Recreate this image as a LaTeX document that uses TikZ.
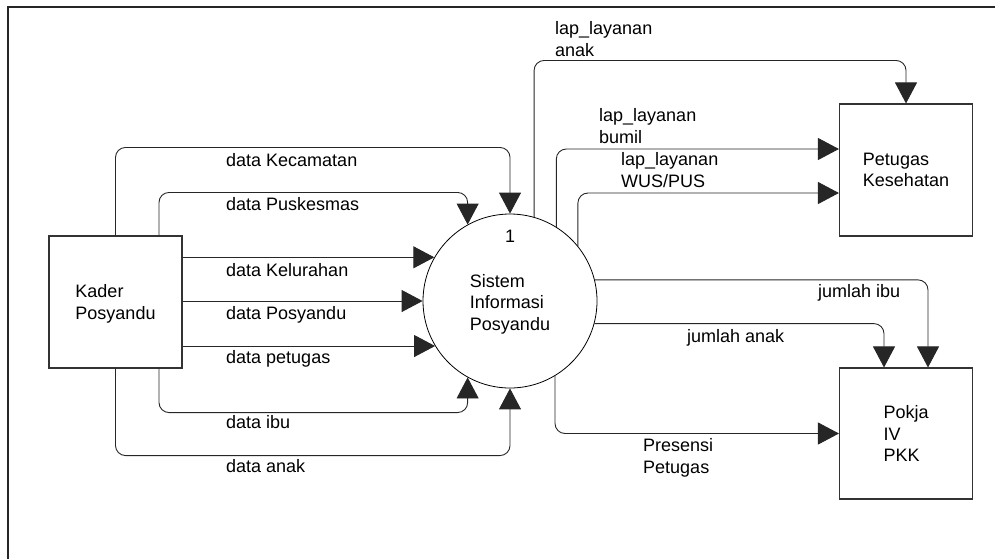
\documentclass[tikz,border=0pt]{standalone}
\usepackage{fontspec}
\setmainfont{Liberation Sans}
\usetikzlibrary{arrows.meta}
\begin{document}
\begin{tikzpicture}[x=1pt,y=-1pt,
  every node/.style={font=\fontsize{18}{21.5}\selectfont},
  entity/.style={draw=black!80, line width=1.1pt, minimum width=133pt,
    minimum height=132pt, inner sep=0pt, align=left},
  process/.style={draw=black, line width=0.8pt, circle, minimum size=174pt,
    inner sep=0pt, align=left},
  flow/.style={draw=black!85, line width=0.9pt, rounded corners=10pt,
    -{Triangle[length=21pt,width=22pt]}},
  flowlabel/.style={anchor=base west, inner sep=0pt, align=left}]
\useasboundingbox (0,0) rectangle (995,558);

% page frame
\begin{scope}
  \clip (0,0) rectangle (995,558);
  \draw[line width=2pt, black!85] (8,7) rectangle (1020,580);
\end{scope}

% external entities and the process
\node[entity] (kader) at (115.5,302) {};
\node[inner sep=0pt, align=left] (kadertext) at ([yshift=-2pt]kader.center) {Kader\\Posyandu};
\node[entity] (pet) at (906,170) {Petugas\\Kesehatan};
\node[entity, minimum height=131pt] (pokja) at (906,433.5) {Pokja\\IV\\PKK};
\node[process] (sys) at (510,301) {};
\node[inner sep=0pt, align=left] (systext) at ([yshift=-3pt]sys.center) {Sistem\\Informasi\\Posyandu};
\node[inner sep=0pt] (sysid) at ([yshift=65pt]sys.center) {1};

% inputs from Kader Posyandu
\draw[flow] (kader.north) -- ++(0,-88) -| (sys.north);
\draw[flow] ([xshift=43.5pt]kader.north) -- ++(0,-43) -| (sys.119);
\draw[flow] (sys.150.4 -| kader.east) -- (sys.150.4);
\draw[flow] (sys.west -| kader.east) -- (sys.west);
\draw[flow] (sys.211.15 -| kader.east) -- (sys.211.15);
\draw[flow] ([xshift=43.5pt]kader.south) -- ++(0,44) -| (sys.241);
\draw[flow] (kader.south) -- ++(0,87) -| (sys.south);

% outputs to Petugas Kesehatan
\draw[flow] (sys.74.7) |- ([yshift=43pt]pet.north) -- (pet.north);
\draw[flow] (sys.58.85) |- ([yshift=21pt]pet.west);
\draw[flow] (sys.39.65) |- ([yshift=-23pt]pet.west);

% outputs to Pokja IV PKK
\draw[flow] (sys.14) -| ([xshift=22pt]pokja.north);
\draw[flow] (sys.345.4) -| ([xshift=-22pt]pokja.north);
\draw[flow] (sys.301.15) |- (pokja.west);

% data flow names (anchored on the baseline of their last line)
\node[flowlabel] (lKec) at (226,166) {data Kecamatan};
\node[flowlabel] (lPus) at (226,210) {data Puskesmas};
\node[flowlabel] (lKel) at (226,276) {data Kelurahan};
\node[flowlabel] (lPos) at (226,319) {data Posyandu};
\node[flowlabel] (lPet) at (226,363) {data petugas};
\node[flowlabel] (lIbu) at (226,428) {data ibu};
\node[flowlabel] (lAnak) at (226,472) {data anak};
\node[flowlabel] (lLapAnak) at (555,56) {lap\_layanan\\anak};
\node[flowlabel] (lLapBumil) at (599,143) {lap\_layanan\\bumil};
\node[flowlabel] (lLapWus) at (621,187) {lap\_layanan\\WUS/PUS};
\node[flowlabel] (lJIbu) at (818,297) {jumlah ibu};
\node[flowlabel] (lJAnak) at (687,342) {jumlah anak};
\node[flowlabel] (lPres) at (643,473) {Presensi\\Petugas};
\end{tikzpicture}
\end{document}
